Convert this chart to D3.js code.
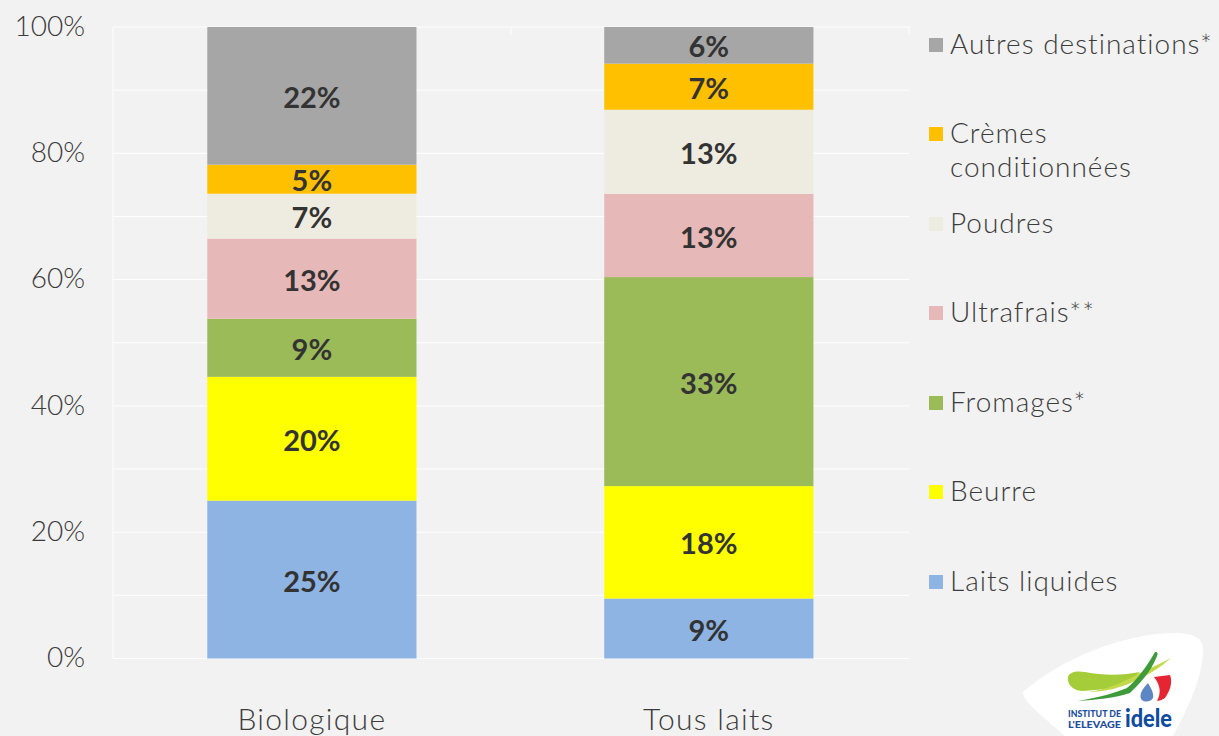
<!DOCTYPE html>
<html><head><meta charset="utf-8">
<script src="https://cdn.jsdelivr.net/npm/d3@7"></script>
<style>html,body{margin:0;padding:0;background:#f2f2f2}svg{display:block}text{font-family:Lato,"Open Sans",sans-serif}</style>
</head><body><div id="c"></div>
<script>
const categories=["Biologique","Tous laits"];
const seriesColors=["#8eb4e3","#ffff00","#9bbb59","#e6b9b8","#eeece1","#ffc000","#a6a6a6"];
const biologique=[25,19.6,9.2,12.7,7.1,4.6,21.8];
const tousLaits=[9.5,17.8,33.1,13.2,13.3,7.3,5.8];
const yTicks=[0,20,40,60,80,100];
const gridTicks=[0,10,20,30,40,50,60,70,80,90,100];
const labelsBio=["25%","20%","9%","13%","7%","5%","22%"];
const labelsTous=["9%","18%","33%","13%","13%","7%","6%"];
const legendLines=[["Autres destinations*"],["Crèmes","conditionnées"],["Poudres"],["Ultrafrais**"],["Fromages*"],["Beurre"],["Laits liquides"]];
const legendColors=["#a6a6a6","#ffc000","#eeece1","#e6b9b8","#9bbb59","#ffff00","#8eb4e3"];
const legendY=[45,134,224,313,403,492,582];

const W=1219,H=736,L=113,R=909,T=27,B=658.5;
const svg=d3.select("#c").append("svg").attr("width",W).attr("height",H);
svg.append("rect").attr("width",W).attr("height",H).attr("fill","#f2f2f2");
const x=d3.scaleBand().domain(categories).range([113.4,907.3]).paddingInner(.473).paddingOuter(.2365);
const y=d3.scaleLinear().domain([0,100]).range([B,T]);
const ink="#3c3c3c";

svg.append("g").selectAll("line").data(gridTicks).join("line")
 .attr("x1",L).attr("x2",R).attr("y1",d=>y(d)).attr("y2",d=>y(d)).attr("stroke","#fff").attr("stroke-width",1);
svg.append("line").attr("x1",L).attr("x2",L).attr("y1",T).attr("y2",B).attr("stroke","#fff").attr("stroke-width",1);
svg.append("line").attr("x1",R).attr("x2",R).attr("y1",T).attr("y2",T+8).attr("stroke","#fff");
svg.append("line").attr("x1",(L+R)/2).attr("x2",(L+R)/2).attr("y1",T).attr("y2",T+8).attr("stroke","#fff");

const rows=[[categories[0],biologique,labelsBio],[categories[1],tousLaits,labelsTous]];
rows.forEach(([cat,vals,labs])=>{
  let acc=0;
  vals.forEach((v,i)=>{
    const y0=y(acc),y1=y(acc+v);acc+=v;
    svg.append("rect").attr("x",x(cat)).attr("width",x.bandwidth()).attr("y",y1).attr("height",y0-y1).attr("fill",seriesColors[i]);
    svg.append("text").attr("x",x(cat)+x.bandwidth()/2).attr("y",(y0+y1)/2+2).attr("dy","0.35em")
      .attr("text-anchor","middle").attr("font-size",29).attr("font-weight",700).attr("fill","#333").text(labs[i]);
  });
});

svg.append("g").selectAll("text").data(yTicks).join("text")
 .attr("x",85).attr("y",d=>y(d)-1).attr("dy","0.35em").attr("text-anchor","end")
 .attr("font-size",28).attr("font-weight",300).attr("fill",ink).text(d=>d+"%");
svg.append("g").selectAll("text").data(categories).join("text")
 .attr("x",d=>x(d)+x.bandwidth()/2).attr("y",730).attr("text-anchor","middle")
 .attr("font-size",30).attr("letter-spacing",1.3).attr("font-weight",300).attr("fill",ink).text(d=>d);

legendLines.forEach((lines,i)=>{
  svg.append("rect").attr("x",929).attr("y",legendY[i]-7).attr("width",14).attr("height",14).attr("fill",legendColors[i]);
  lines.forEach((t,j)=>svg.append("text").attr("x",950).attr("y",legendY[i]-1+j*34).attr("dy","0.35em")
    .attr("font-size",28).attr("letter-spacing",1).attr("font-weight",300).attr("fill",ink).text(t));
});

// logo
const logo=svg.append("g");
logo.append("path").attr("fill","#fff").attr("d","M1023 692C1060 660 1120 634 1173 633C1195 633 1203 638 1203 650C1203 675 1190 705 1173 736L1065 736C1050 722 1022 702 1023 692Z");
logo.append("path").attr("fill","#a5cd39").attr("d","M1068 677C1070 671 1078 671 1085 672C1105 676 1125 675 1140 672L1128 684C1115 688 1100 690 1082 691C1072 690 1067 684 1068 677Z");
logo.append("path").attr("fill","#c3d84a").attr("d","M1088 692C1110 689 1125 681 1140 673C1150 668 1162 663 1171 658C1160 668 1148 675 1135 681C1120 688 1105 692 1088 692Z");
logo.append("path").attr("fill","#3f9a3c").attr("d","M1078 701C1100 697 1115 693 1127 688C1137 680 1147 666 1155 652C1158 652 1158 654 1157 656C1153 666 1147 677 1130 693C1115 698 1095 700 1078 701Z");
logo.append("path").attr("fill","#e52531").attr("d","M1154 677L1170 675C1172 680 1172 688 1165 698C1162 700 1159 701 1157 701C1161 694 1161 686 1154 677Z");
logo.append("path").attr("fill","#5f86c4").attr("d","M1148 683C1151 688 1154 693 1153 698C1151 702 1144 703 1141 699C1139 694 1143 688 1148 683Z");
logo.append("text").attr("x",1068).attr("y",716.5).attr("font-size",9).attr("font-weight",900).attr("textLength",53).attr("lengthAdjust","spacingAndGlyphs").attr("fill","#1f4e9c").text("INSTITUT DE");
logo.append("text").attr("x",1068).attr("y",727.5).attr("font-size",9).attr("font-weight",900).attr("textLength",53).attr("lengthAdjust","spacingAndGlyphs").attr("fill","#1f4e9c").text("L'ELEVAGE");
logo.append("text").attr("x",1125).attr("y",727).attr("font-size",25).attr("font-weight",900).attr("textLength",47).attr("lengthAdjust","spacingAndGlyphs").attr("fill","#0f4c9e").text("idele");
</script></body></html>
